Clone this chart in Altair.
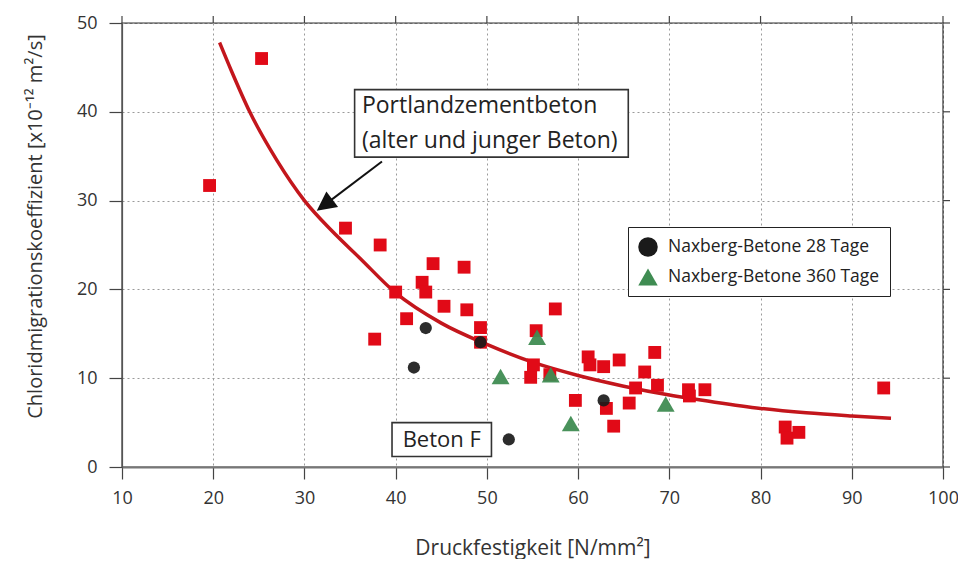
import altair as alt
import pandas as pd

# ---- data ----
red_x = [19.6, 25.3, 34.5, 38.3, 37.7, 40.0, 41.2, 42.9, 43.3, 44.1, 45.3, 47.5, 47.8, 49.3, 49.3,
         54.8, 55.1, 55.4, 56.9, 57.5, 59.7, 61.1, 61.3, 62.8, 63.1, 63.9, 64.5, 65.6, 66.3, 67.3,
         68.4, 68.7, 72.1, 72.2, 73.9, 82.7, 82.9, 84.2, 93.5]
red_y = [31.7, 46.0, 26.9, 25.0, 14.4, 19.7, 16.7, 20.8, 19.7, 22.9, 18.1, 22.5, 17.7, 15.7, 14.05,
         10.1, 11.5, 15.35, 10.4, 17.8, 7.5, 12.4, 11.5, 11.3, 6.6, 4.6, 12.05, 7.2, 8.9, 10.7,
         12.9, 9.2, 8.7, 8.0, 8.7, 4.5, 3.25, 3.9, 8.9]

black_x = [43.3, 42.0, 49.3, 52.4, 62.8]
black_y = [15.65, 11.2, 14.05, 3.1, 7.5]

green_x = [51.5, 55.5, 57.0, 59.2, 69.6]
green_y = [10.2, 14.6, 10.4, 4.9, 7.1]

curve_x = [20.7, 22, 24, 27, 30, 33, 36, 40, 45, 50, 55, 60, 65, 70, 75, 80, 85, 90, 94.3]
curve_y = [47.8, 44.6, 40.0, 34.5, 30.0, 26.6, 23.6, 19.6, 16.2, 13.8, 11.8, 10.3, 9.1, 8.1, 7.3,
           6.6, 6.1, 5.75, 5.5]

x_ticks = [10, 20, 30, 40, 50, 60, 70, 80, 90, 100]
y_ticks = [0, 10, 20, 30, 40, 50]

label_28 = "Naxberg-Betone 28 Tage"
label_360 = "Naxberg-Betone 360 Tage"

box_x = [35.5, 39.6]
box_x2 = [65.5, 50.5]
box_y = [42.5, 5.0]
box_y2 = [34.9, 1.18]

note_text = ["Portlandzementbeton", "(alter und junger Beton)", "Beton F"]
note_x = [36.3, 36.3, 45.05]
note_y = [40.6, 36.75, 3.0]
note_align = ["left", "left", "center"]

arrow_x = [38.5]
arrow_y = [34.4]
arrow_x2 = [32.0]
arrow_y2 = [29.35]
tip_x = [31.35]
tip_y = [28.85]

W, H = 821, 444
FONT = "Open Sans"
BLACK = "#1a1a1a"
GREEN = "#3f8c52"

xs = alt.Scale(domain=[10, 100], nice=False, zero=False)
ys = alt.Scale(domain=[0, 50], nice=False)

xaxis = alt.Axis(values=x_ticks, title="Druckfestigkeit [N/mm²]", grid=True, gridDash=[2, 3],
                 gridColor="#9a9a9a", gridWidth=1, tickSize=12, tickColor="#444", tickWidth=1.2,
                 domainColor="#777", domainWidth=2, labelFontSize=18, labelFont=FONT,
                 labelColor="#333", labelPadding=10, titleFontSize=21, titleFont=FONT,
                 titleFontWeight="normal", titleColor="#333", titlePadding=30, labelFlush=False)
yaxis = alt.Axis(values=y_ticks, title="Chloridmigrationskoeffizient [x10⁻¹² m²/s]", grid=True,
                 gridDash=[2, 3], gridColor="#9a9a9a", gridWidth=1, tickSize=13, tickColor="#444",
                 tickWidth=1.2, domainColor="#555", domainWidth=1.2, labelFontSize=18,
                 labelFont=FONT, labelColor="#333", labelPadding=12, titleFontSize=20,
                 titleFont=FONT, titleFontWeight="normal", titleColor="#333",
                 titleX=-87, titleY=203, titleBaseline="middle", titleAlign="center",
                 labelFlush=False)

X = lambda f="x": alt.X(f"{f}:Q", scale=xs, axis=xaxis)
Y = lambda f="y": alt.Y(f"{f}:Q", scale=ys, axis=yaxis)

curve_df = pd.DataFrame({"x": curve_x, "y": curve_y})
red_df = pd.DataFrame({"x": red_x, "y": red_y})
black_df = pd.DataFrame({"x": black_x, "y": black_y})
green_df = pd.DataFrame({"x": green_x, "y": green_y})
nax_df = pd.DataFrame({
    "x": black_x + green_x,
    "y": black_y + green_y,
    "serie": [label_28] * len(black_x) + [label_360] * len(green_x),
})

curve = alt.Chart(curve_df).mark_line(color="#c3161c", strokeWidth=3.5, interpolate="monotone").encode(
    x=X(), y=Y())

red = alt.Chart(red_df).mark_point(shape="square", filled=True, size=165, color="#e10a17",
                                   opacity=1).encode(x=X(), y=Y())

dom = [label_28, label_360]
leg = alt.Legend(title=None, orient="none", legendX=506, legendY=204, fillColor="white",
                 strokeColor="#222", padding=10, symbolSize=380, labelFontSize=17.5,
                 labelFont=FONT, labelColor="#222", rowPadding=10, labelOffset=10,
                 symbolStrokeWidth=0, symbolOpacity=1, labelLimit=400)

# legend carrier (marks invisible, legend symbols opaque)
nax_legend = alt.Chart(nax_df).mark_point(filled=True, size=100, opacity=0).encode(
    x=X(), y=Y(),
    color=alt.Color("serie:N", scale=alt.Scale(domain=dom, range=[BLACK, GREEN]), legend=leg),
    shape=alt.Shape("serie:N", scale=alt.Scale(domain=dom, range=["circle", "triangle-up"]), legend=leg),
)
black = alt.Chart(black_df).mark_point(shape="circle", filled=True, size=150, color=BLACK,
                                       opacity=0.92).encode(x=X(), y=Y())
green = alt.Chart(green_df).mark_point(shape="triangle-up", filled=True, size=320, color=GREEN,
                                       opacity=0.95).encode(x=X(), y=Y())

box_df = pd.DataFrame({"x": box_x, "x2": box_x2, "y": box_y, "y2": box_y2})
boxes = alt.Chart(box_df).mark_rect(fill="white", stroke="#333", strokeWidth=1.6).encode(
    x=X(), x2="x2:Q", y=Y(), y2="y2:Q")

note_df = pd.DataFrame({"x": note_x, "y": note_y, "t": note_text, "a": note_align})
notes_left = alt.Chart(note_df[note_df.a == "left"]).mark_text(
    align="left", baseline="middle", fontSize=23, font=FONT, color="#222").encode(
    x=X(), y=Y(), text="t:N")
notes_center = alt.Chart(note_df[note_df.a == "center"]).mark_text(
    align="center", baseline="middle", fontSize=22, font=FONT, color="#222").encode(
    x=X(), y=Y(), text="t:N")

arrow_df = pd.DataFrame({"x": arrow_x, "y": arrow_y, "x2": arrow_x2, "y2": arrow_y2})
arrow = alt.Chart(arrow_df).mark_rule(color="#111", strokeWidth=2).encode(
    x=X(), y=Y(), x2="x2:Q", y2="y2:Q")
tip_df = pd.DataFrame({"x": tip_x, "y": tip_y})
tip = alt.Chart(tip_df).mark_point(shape="M0,0L-0.5,1L0.5,1Z", filled=True, color="#111",
                                   size=1500, angle=233, opacity=1).encode(x=X(), y=Y())

xt_df = pd.DataFrame({"x": x_ticks})
top_ticks = alt.Chart(xt_df).mark_rule(color="#444", strokeWidth=1.2).encode(
    x=X(), y=alt.value(-7), y2=alt.value(0))
yt_df = pd.DataFrame({"y": y_ticks})
right_ticks = alt.Chart(yt_df).mark_rule(color="#444", strokeWidth=1.2).encode(
    y=Y(), x=alt.value(W), x2=alt.value(W + 7))

chart = alt.layer(curve, red, nax_legend, black, green, boxes, notes_left, notes_center, arrow,
                  tip, top_ticks, right_ticks).properties(
    width=W, height=H,
    autosize=alt.AutoSizeParams(type="none"),
    padding={"left": 114, "top": 15, "right": 15, "bottom": 92},
    background="white",
).configure_view(stroke="#333", strokeWidth=1.4)

chart.save("out.html", embed_options={"renderer": "svg", "actions": False})
